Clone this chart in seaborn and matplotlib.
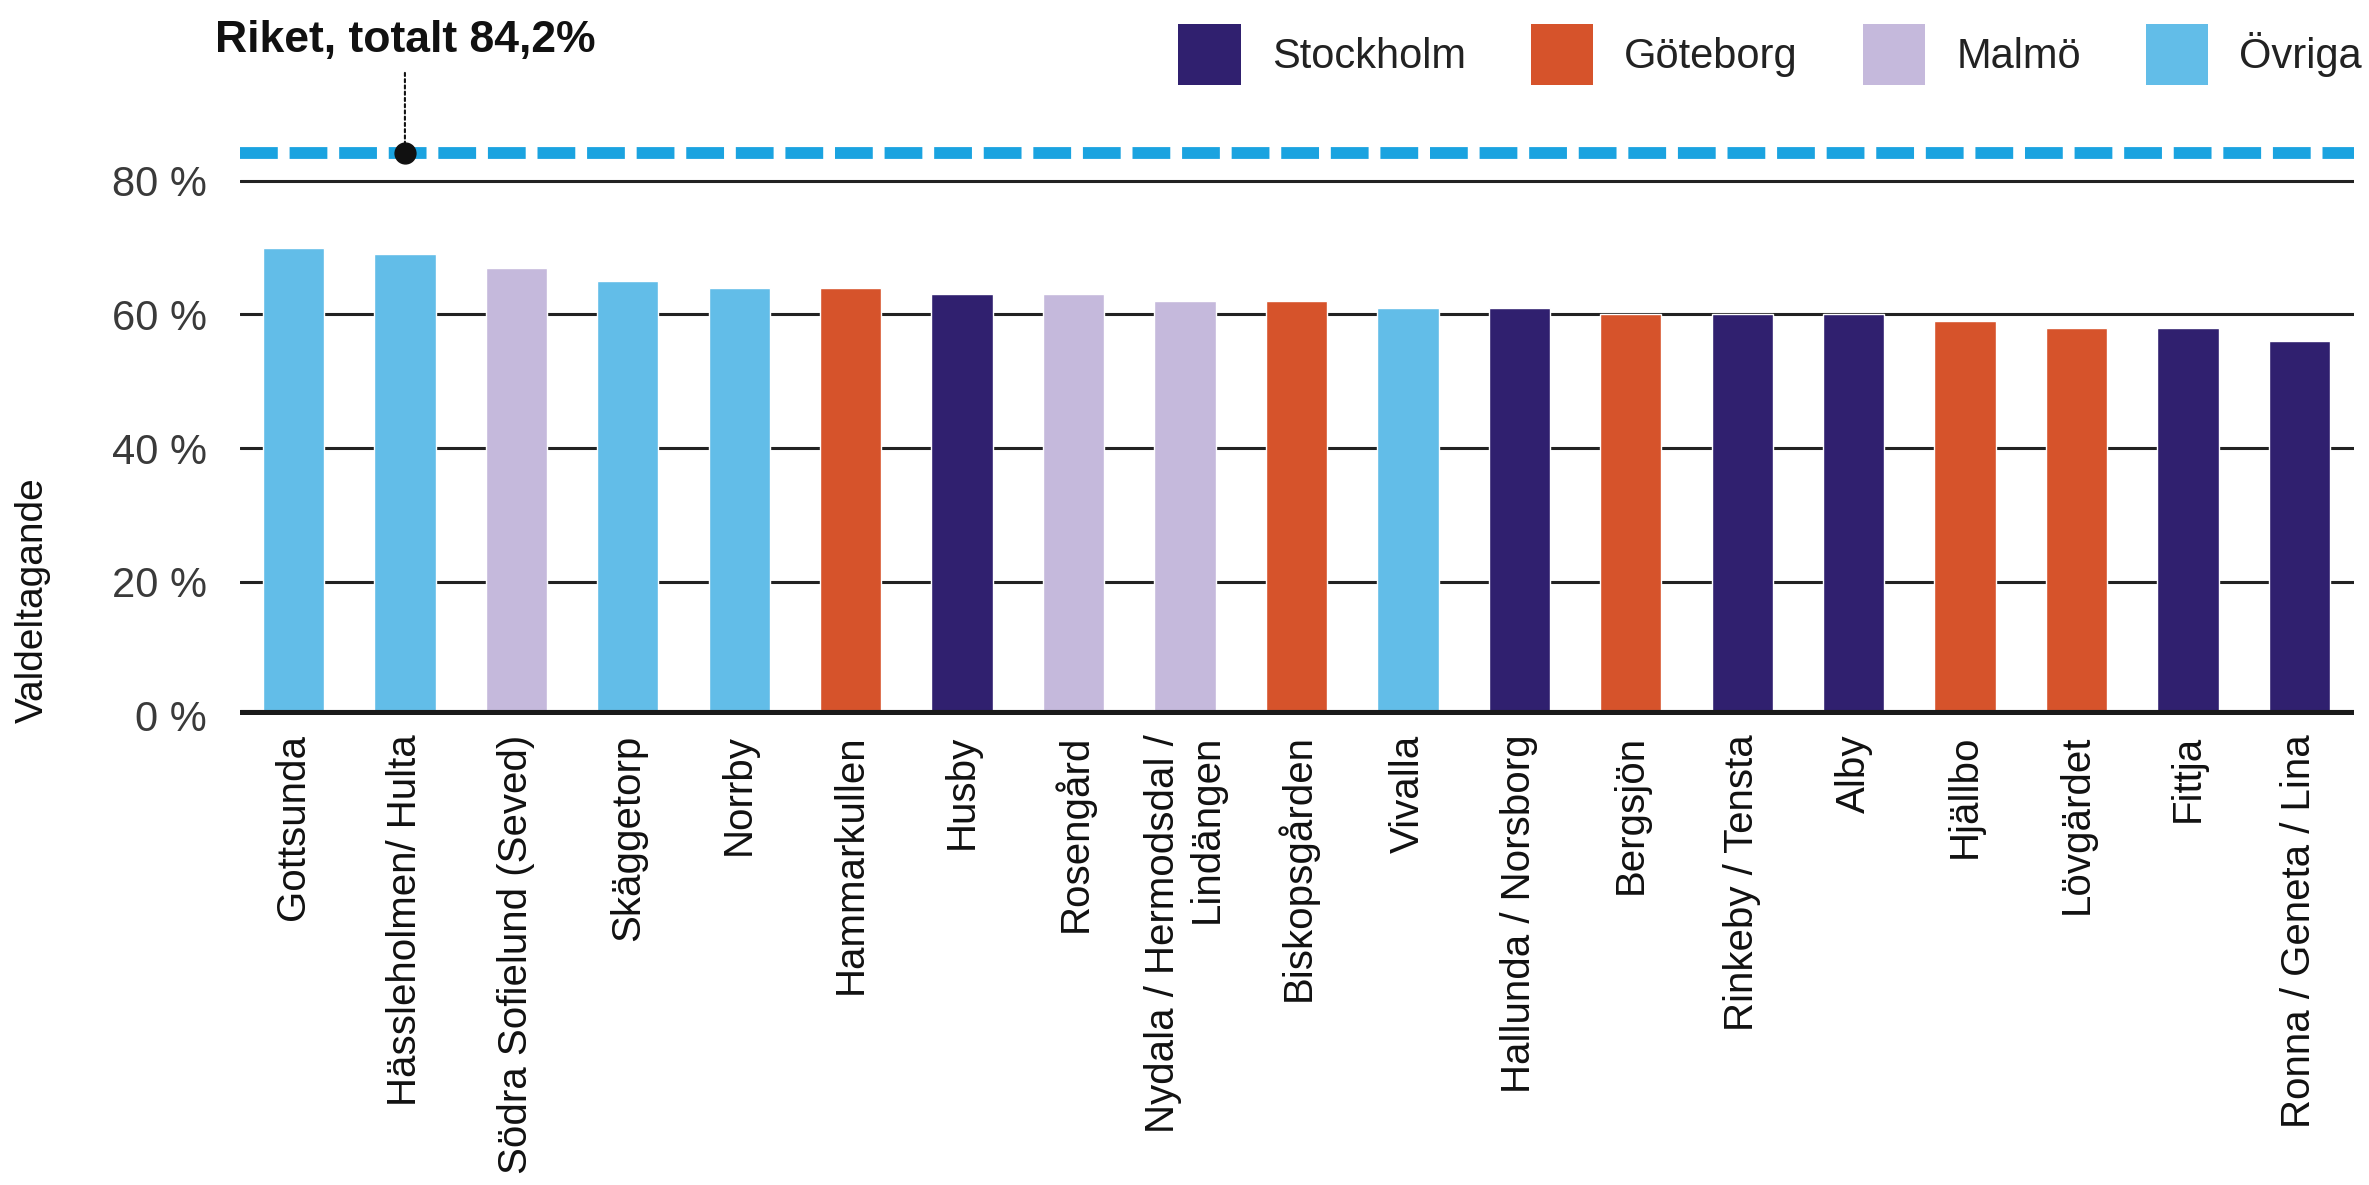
import pandas as pd
import matplotlib.pyplot as plt
import seaborn as sns
from matplotlib.patches import Patch

# Data
omraden = ["Gottsunda", "Hässleholmen/ Hulta", "Södra Sofielund (Seved)", "Skäggetorp",
           "Norrby", "Hammarkullen", "Husby", "Rosengård",
           "Nydala / Hermodsdal /\nLindängen", "Biskopsgården", "Vivalla",
           "Hallunda / Norsborg", "Bergsjön", "Rinkeby / Tensta", "Alby",
           "Hjällbo", "Lövgärdet", "Fittja", "Ronna / Geneta / Lina"]
stad = ["Övriga", "Övriga", "Malmö", "Övriga", "Övriga", "Göteborg", "Stockholm",
        "Malmö", "Malmö", "Göteborg", "Övriga", "Stockholm", "Göteborg",
        "Stockholm", "Stockholm", "Göteborg", "Göteborg", "Stockholm", "Stockholm"]
valdeltagande = [70, 69, 67, 65, 64, 64, 63, 63, 62, 62, 61, 61, 60, 60, 60, 59, 58, 58, 56]
riket = 84.2
yticks = [0, 20, 40, 60, 80]

kategorier = ["Stockholm", "Göteborg", "Malmö", "Övriga"]
farger = {"Stockholm": "#30206f", "Göteborg": "#d6532b",
          "Malmö": "#c5b9dc", "Övriga": "#62bde8"}

df = pd.DataFrame({"omrade": omraden, "stad": stad, "varde": valdeltagande})

sns.set_style("white")
plt.rcParams['font.family'] = ['Liberation Sans', 'DejaVu Sans']

fig = plt.figure(figsize=(23.69, 11.85), dpi=100)
ax = fig.add_axes([0.1013, 0.3966, 0.8924, 0.4901])

# grid lines under the bars
for y in yticks[1:]:
    ax.axhline(y, color='#222222', lw=2.2, zorder=0)

sns.barplot(data=df, x="omrade", y="varde", hue="stad", palette=farger,
            dodge=False, width=0.55, legend=False, saturation=1, ax=ax, zorder=2)

ax.axhline(0, color='#1a1a1a', lw=8, zorder=3)
ax.axhline(riket, color='#1aa3e0', lw=8.5, linestyle=(0, (3.2, 1.0)), zorder=3)

ax.annotate("Riket, totalt 84,2%", xy=(1, riket), xytext=(0, 66),
            textcoords='offset points', ha='center', va='bottom',
            fontsize=32, fontweight='bold', color='#111111',
            arrowprops=dict(arrowstyle='-', linestyle=(0, (1.5, 1.5)), lw=1.5,
                            color='#111111', shrinkA=6, shrinkB=0),
            annotation_clip=False)
ax.plot([1], [riket], 'o', color='#111111', ms=15, zorder=5, clip_on=False)

ax.set_xlim(-0.48, len(omraden) - 0.51)
ax.set_ylim(0, 87)
ax.set_yticks(yticks)
ax.set_yticklabels([f"{v} %" for v in yticks])
ax.tick_params(axis='y', length=0, pad=24, labelsize=30, labelcolor='#3a3a3a')
ax.tick_params(axis='x', length=0, pad=14, labelsize=29, labelcolor='#111111')
for lab in ax.get_xticklabels():
    lab.set_rotation(90)
    lab.set_ha('center')
    lab.set_va('top')
    lab.set_multialignment('right')

ax.set_xlabel("")
ax.set_ylabel("Valdeltagande", fontsize=28, color='#111111', va='center', ha='center')
ax.yaxis.set_label_coords(-0.098, 0.198)

for s in ax.spines.values():
    s.set_visible(False)

handles = [Patch(facecolor=farger[k], edgecolor='none', label=k) for k in kategorier]
fig.legend(handles=handles, loc='center right', bbox_to_anchor=(0.997, 0.954),
           ncol=4, frameon=False, fontsize=30, handlelength=1.5, handleheight=1.9,
           handletextpad=0.75, columnspacing=1.55, borderpad=0, borderaxespad=0,
           labelcolor='#222222')

fig.savefig("out.png", dpi=100, facecolor='white')
